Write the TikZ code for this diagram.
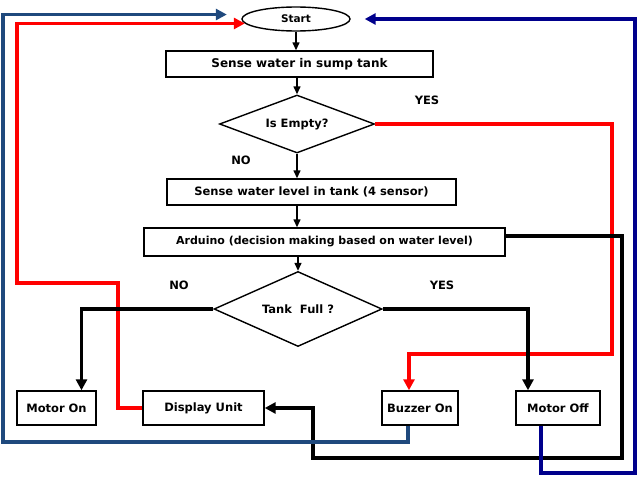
\documentclass[tikz,border=0pt]{standalone}
\usepackage{fontspec}
\setmainfont{DejaVu Sans}
\usetikzlibrary{shapes.geometric,arrows.meta}
\definecolor{lineblue}{RGB}{31,73,125}
\definecolor{linenavy}{RGB}{0,0,140}
\definecolor{linered}{RGB}{255,0,0}
\tikzset{
  proc/.style={draw,line width=1.4pt,inner sep=0pt,font=\bfseries\fontsize{11.5}{13}\selectfont},
  decide/.style={draw,diamond,line width=1.4pt,inner sep=0pt,font=\bfseries\fontsize{11.5}{13}\selectfont},
  lab/.style={font=\bfseries\fontsize{11.5}{13}\selectfont},
  flow/.style={line width=1.4pt,-{Triangle[length=8pt,width=7pt]}},
  thick line/.style={line width=3.5pt,-{Triangle[length=11pt,width=11pt]}}
}
\begin{document}
\begin{tikzpicture}[x=1pt,y=-1pt]
        \useasboundingbox (0,0) rectangle (638,479);
        \node[draw,ellipse,line width=1.4pt,minimum width=108pt,minimum height=24pt,inner sep=0pt,font=\bfseries\fontsize{10.5}{11}\selectfont] (start) at (296,19) {Start};
        \node[proc,minimum width=267pt,minimum height=26pt,font=\bfseries\fontsize{12}{14}\selectfont] (sump) at (299.5,64) {Sense water in sump tank};
        \node[decide,aspect=2.67,minimum width=155pt,minimum height=58pt] (empty) at (297,124) {Is Empty?};
        \node[proc,minimum width=289pt,minimum height=26pt] (level) at (311.5,192) {Sense water level in tank (4 sensor)};
        \node[proc,minimum width=361pt,minimum height=28pt,font=\bfseries\fontsize{11}{13}\selectfont] (arduino) at (324.5,242) {Arduino (decision making based on water level)};
        \node[decide,aspect=2.24,minimum width=168pt,minimum height=75pt] (full) at (298,309) {Tank\ \ Full ?};
        \node[proc,minimum width=79pt,minimum height=34pt] (motoron) at (56.5,408) {Motor On};
        \node[proc,minimum width=121pt,minimum height=34pt] (display) at (203.5,408) {Display Unit};
        \node[proc,minimum width=76pt,minimum height=34pt] (buzzer) at (420,408) {Buzzer On};
        \node[proc,minimum width=84pt,minimum height=34pt] (motoroff) at (558,408) {Motor Off};
        \node[lab] (yes1) at (427,100) {YES};
        \node[lab] (no1) at (241,160) {NO};
        \node[lab] (no2) at (179,285) {NO};
        \node[lab] (yes2) at (442,285) {YES};
        \coordinate (redr) at (612,354);
        \coordinate (redl) at (118,283);
        \coordinate (redx) at (17,0);
        \coordinate (blkr) at (622,458);
        \coordinate (blkl) at (313,408);
        \coordinate (bluel) at (3,442);
        \coordinate (navyr) at (635,473);
        \draw[flow] (start.south) -- (start.south |- sump.north);
        \draw[flow] (sump.south -| empty.north) -- (empty.north);
        \draw[flow] (empty.south) -- (empty.south |- level.north);
        \draw[flow] (level.south -| empty.south) -- (arduino.north -| empty.south);
        \draw[flow] (arduino.south -| full.north) -- (full.north);
        \draw[thick line,color=linered] (empty.east) -| (redr) -| ([xshift=-11pt]buzzer.north);
        \draw[thick line,color=linered] (display.west) -| (redl) -| (redx |- start.185) -- (start.185);
        \draw[thick line] (full.west) -| ([xshift=25pt]motoron.north);
        \draw[thick line] (full.east) -| ([xshift=-30pt]motoroff.north);
        \draw[thick line] ([yshift=6pt]arduino.east) -| (blkr) -| (blkl) -- (display.east);
        \draw[thick line,color=lineblue,shorten >=18pt] ([xshift=-12pt]buzzer.south) |- (bluel) |- (start.175);
        \draw[thick line,color=linenavy,shorten >=14pt] ([xshift=-17pt]motoroff.south) |- (navyr) |- (start.east);
    \end{tikzpicture}
\end{document}
